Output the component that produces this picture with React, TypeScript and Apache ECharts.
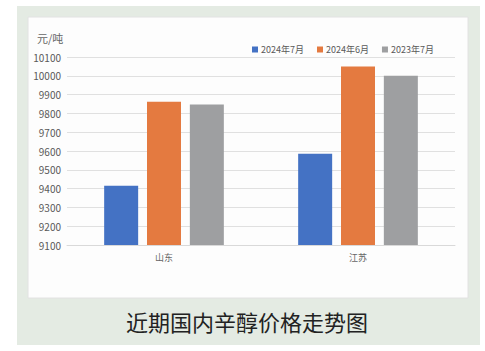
import React, { useEffect, useRef } from "react";
import * as echarts from "echarts";

const categories = ["山东", "江苏"];
const seriesNames = ["2024年7月", "2024年6月", "2023年7月"];
const jul2024 = [9415, 9585];
const jun2024 = [9862, 10050];
const jul2023 = [9848, 10000];
const colors = ["#4472C4", "#E47A40", "#9E9FA1"];
const FONT = "Noto Sans CJK SC";

export default function App() {
  const ref = useRef<HTMLDivElement>(null);
  useEffect(() => {
    const chart = echarts.init(ref.current!, undefined, { renderer: "svg" });
    const data = [jul2024, jun2024, jul2023];
    chart.setOption({
      animation: false,
      backgroundColor: "#ffffff",
      textStyle: { fontFamily: FONT },
      graphic: [
        { type: "rect", z: -10, shape: { x: 17, y: 6, width: 463, height: 339 }, style: { fill: "#E4EBE3" } },
        { type: "rect", z: -9, shape: { x: 28, y: 17, width: 440, height: 281 }, style: { fill: "#FDFDFD", stroke: "#E2E2E2", lineWidth: 1 } },
        { type: "text", x: 37, y: 38, style: { text: "元/吨", fontSize: 11, fill: "#666666", fontFamily: FONT, textVerticalAlign: "middle" } },
        { type: "text", x: 247, y: 321, style: { text: "近期国内辛醇价格走势图", fontSize: 22, fill: "#222222", fontFamily: FONT, textAlign: "center", textVerticalAlign: "middle" } },
      ],
      legend: {
        data: seriesNames,
        left: 247,
        top: 40,
        icon: "rect",
        itemWidth: 6,
        itemHeight: 6,
        itemGap: 13,
        textStyle: { fontSize: 9, color: "#595959", fontFamily: FONT, padding: [0, 0, 0, -2] },
      },
      grid: { left: 67, right: 30, top: 57, bottom: 106, containLabel: false },
      xAxis: {
        type: "category",
        data: categories,
        axisLine: { lineStyle: { color: "#D9D9D9" } },
        axisTick: { show: false },
        axisLabel: { fontSize: 9, color: "#666666", margin: 8, fontFamily: FONT },
      },
      yAxis: {
        type: "value",
        min: 9100,
        max: 10100,
        interval: 100,
        axisLine: { show: false },
        axisTick: { show: false },
        axisLabel: { fontSize: 10, color: "#595959", margin: 6, fontFamily: FONT, formatter: (v: number) => String(v) },
        splitLine: { lineStyle: { color: "#E0E0E0" } },
      },
      series: seriesNames.map((name, i) => ({
        name,
        type: "bar",
        data: data[i],
        barWidth: 34,
        barGap: "26%",
        itemStyle: { color: colors[i] },
      })),
    });
    return () => chart.dispose();
  }, []);
  return (
    <div
      ref={ref}
      style={{ position: "fixed", left: 0, top: 0, width: 485, height: 351 }}
    />
  );
}
